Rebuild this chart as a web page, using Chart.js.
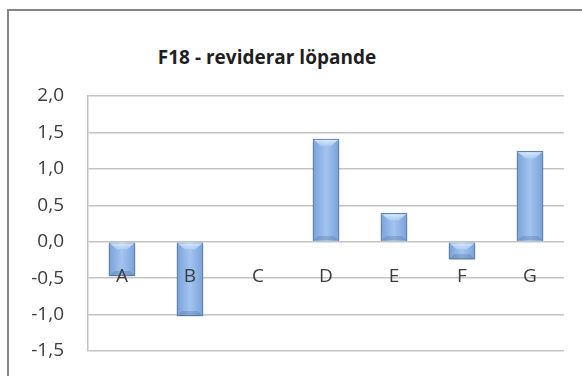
<!DOCTYPE html>
<html>
<head>
<meta charset="utf-8">
<script src="https://cdn.jsdelivr.net/npm/chart.js@4.4.1/dist/chart.umd.min.js"></script>
<style>
  html, body { margin: 0; padding: 0; background: #fff; }
  #wrap { position: relative; width: 582px; height: 376px; overflow: hidden; }
  #frame { position: absolute; left: 7px; top: 9px; width: 620px; height: 420px;
           border-top: 2px solid #858585; border-left: 2px solid #858585; }
  #title { position: absolute; left: 0; width: 534px; top: 44px; text-align: center;
           font: bold 19px "Open Sans", sans-serif; color: #1f1f1f; }
  canvas { position: absolute; left: 0; top: 0; }
</style>
</head>
<body>
<div id="wrap">
  <div id="frame"></div>
  <div id="title">F18 - reviderar löpande</div>
  <canvas id="revChart" width="582" height="376"></canvas>
</div>
<script>
// categories and values
var categories = ["A", "B", "C", "D", "E", "F", "G"];
var values = [-0.47, -1.02, 0, 1.41, 0.39, -0.24, 1.24];
var yTicks = [-1.5, -1.0, -0.5, 0.0, 0.5, 1.0, 1.5, 2.0];

var labelFont = '19px "Open Sans", sans-serif';
var labelColor = '#3c3c3c';

// horizontal gradient across each bar
function barFill(context) {
    var chart = context.chart;
    var xs = chart.scales.x;
    if (!xs || !chart.chartArea) return '#94b8e6';
    var cx = xs.getPixelForValue(context.dataIndex);
    if (!isFinite(cx)) return '#94b8e6';
    var g = chart.ctx.createLinearGradient(cx - 13, 0, cx + 13, 0);
    g.addColorStop(0, '#7aa2d9');
    g.addColorStop(0.5, '#a2c4ef');
    g.addColorStop(1, '#7aa2d9');
    return g;
}

// drop shadow under the bars, then a light bevel on top and a darker bottom edge
var barShadow = {
    id: 'barShadow',
    beforeDatasetDraw: function(chart) {
        var ctx = chart.ctx;
        ctx.save();
        ctx.shadowColor = 'rgba(0,0,0,0.35)';
        ctx.shadowBlur = 4;
        ctx.shadowOffsetY = 2;
    },
    afterDatasetDraw: function(chart, args) {
        var ctx = chart.ctx;
        ctx.restore();
        args.meta.data.forEach(function(bar) {
            var p = bar.getProps(['x', 'y', 'base', 'width']);
            var top = Math.min(p.y, p.base), bottom = Math.max(p.y, p.base);
            var h = bottom - top;
            if (h < 1) return;
            var left = p.x - p.width / 2 + 1, right = p.x + p.width / 2 - 1;
            var bev = Math.min(7, h / 2);
            ctx.save();
            var g = ctx.createLinearGradient(0, top, 0, top + bev);
            g.addColorStop(0, 'rgba(235,244,255,0.9)');
            g.addColorStop(1, 'rgba(200,222,250,0.4)');
            ctx.fillStyle = g;
            ctx.beginPath();
            ctx.moveTo(left, top + 1);
            ctx.lineTo(right, top + 1);
            ctx.lineTo(right - bev, top + bev);
            ctx.lineTo(left + bev, top + bev);
            ctx.closePath();
            ctx.fill();
            ctx.fillStyle = 'rgba(70,105,160,0.3)';
            ctx.beginPath();
            ctx.moveTo(left, bottom - 1);
            ctx.lineTo(right, bottom - 1);
            ctx.lineTo(right - 4, bottom - 5);
            ctx.lineTo(left + 4, bottom - 5);
            ctx.closePath();
            ctx.fill();
            ctx.restore();
        });
    }
};

// category names drawn across the plot, over the bars
var categoryLabels = {
    id: 'categoryLabels',
    afterDatasetsDraw: function(chart) {
        var ctx = chart.ctx;
        var x = chart.scales.x, y = chart.scales.y;
        ctx.save();
        ctx.font = labelFont;
        ctx.fillStyle = labelColor;
        ctx.textAlign = 'center';
        ctx.textBaseline = 'middle';
        for (var i = 0; i < categories.length; i++) {
            ctx.fillText(categories[i], x.getPixelForValue(i), y.getPixelForValue(-0.5) - 2);
        }
        ctx.restore();
    }
};

var ctx = document.getElementById("revChart");
var revChart = new Chart(ctx, {
    type: 'bar',
    data: {
        labels: categories,
        datasets: [{
            data: values,
            backgroundColor: barFill,
            borderColor: '#5f86bd',
            borderWidth: 1,
            barThickness: 26
        }]
    },
    options: {
        responsive: false,
        animation: false,
        layout: { padding: { left: 10, right: 18, top: 96, bottom: 25 } },
        plugins: {
            legend: { display: false },
            title: { display: false },
            tooltip: { enabled: false }
        },
        scales: {
            x: { display: false },
            y: {
                min: -1.5,
                max: 2.0,
                afterBuildTicks: function(scale) {
                    scale.ticks = yTicks.map(function(v) { return { value: v }; });
                },
                afterFit: function(scale) { scale.width = 78; },
                ticks: {
                    padding: 0,
                    color: labelColor,
                    font: { family: '"Open Sans"', size: 19 },
                    callback: function(v) { return v.toFixed(1).replace('.', ','); }
                },
                // invisible tick marks keep the labels clear of the axis line
                grid: { color: '#c4c4c4', lineWidth: 1.5, drawTicks: true, tickLength: 24, tickColor: 'rgba(0,0,0,0)' },
                border: { display: true, color: '#c4c4c4', width: 1.5 }
            }
        }
    },
    plugins: [barShadow, categoryLabels]
});
</script>
</body>
</html>
